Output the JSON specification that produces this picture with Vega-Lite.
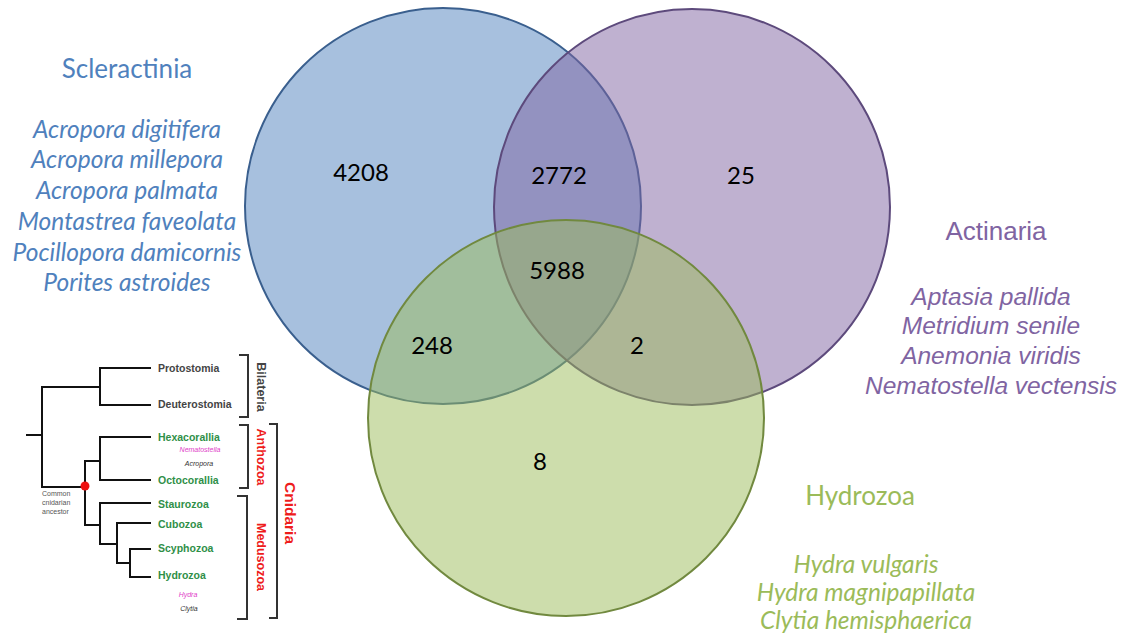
{
  "$schema": "https://vega.github.io/schema/vega-lite/v6.json",
  "width": 1128,
  "height": 640,
  "padding": 0,
  "autosize": {"type": "fit", "contains": "padding"},
  "background": "white",
  "config": {"view": {"stroke": null}},
  "datasets": {
    "circles": [
      {"set": "Scleractinia", "x": 443, "y": 206},
      {"set": "Actinaria", "x": 692, "y": 207},
      {"set": "Hydrozoa", "x": 566, "y": 418}
    ],
    "counts": [
      {"x": 361, "y": 174, "n": "4208"},
      {"x": 559, "y": 177, "n": "2772"},
      {"x": 741, "y": 177, "n": "25"},
      {"x": 557, "y": 272, "n": "5988"},
      {"x": 432, "y": 347, "n": "248"},
      {"x": 637, "y": 347, "n": "2"},
      {"x": 540, "y": 463, "n": "8"}
    ],
    "titles": [
      {"set": "Scleractinia", "x": 127, "y": 70, "t": "Scleractinia"},
      {"set": "Actinaria", "x": 996, "y": 232, "t": "Actinaria"},
      {"set": "Hydrozoa", "x": 860, "y": 497, "t": "Hydrozoa"}
    ],
    "species": [
      {"set": "Scleractinia", "x": 127, "y": 131, "t": "Acropora digitifera"},
      {"set": "Scleractinia", "x": 127, "y": 161, "t": "Acropora millepora"},
      {"set": "Scleractinia", "x": 127, "y": 192, "t": "Acropora palmata"},
      {"set": "Scleractinia", "x": 127, "y": 223, "t": "Montastrea faveolata"},
      {"set": "Scleractinia", "x": 127, "y": 254, "t": "Pocillopora damicornis"},
      {"set": "Scleractinia", "x": 127, "y": 284, "t": "Porites astroides"},
      {"set": "Actinaria", "x": 991, "y": 298, "t": "Aptasia pallida"},
      {"set": "Actinaria", "x": 991, "y": 327, "t": "Metridium senile"},
      {"set": "Actinaria", "x": 991, "y": 357, "t": "Anemonia viridis"},
      {"set": "Actinaria", "x": 991, "y": 387, "t": "Nematostella vectensis"},
      {"set": "Hydrozoa", "x": 866, "y": 566, "t": "Hydra vulgaris"},
      {"set": "Hydrozoa", "x": 866, "y": 594, "t": "Hydra magnipapillata"},
      {"set": "Hydrozoa", "x": 866, "y": 622, "t": "Clytia hemisphaerica"}
    ],
    "tree": [
      {"x": 27, "y": 435, "x2": 42, "y2": 435},
      {"x": 42, "y": 387, "x2": 42, "y2": 487},
      {"x": 42, "y": 387, "x2": 100, "y2": 387},
      {"x": 100, "y": 368, "x2": 100, "y2": 405},
      {"x": 100, "y": 368, "x2": 150, "y2": 368},
      {"x": 100, "y": 405, "x2": 150, "y2": 405},
      {"x": 42, "y": 487, "x2": 85, "y2": 487},
      {"x": 85, "y": 461, "x2": 85, "y2": 525},
      {"x": 85, "y": 461, "x2": 100, "y2": 461},
      {"x": 100, "y": 437, "x2": 100, "y2": 480},
      {"x": 100, "y": 437, "x2": 150, "y2": 437},
      {"x": 100, "y": 480, "x2": 150, "y2": 480},
      {"x": 85, "y": 525, "x2": 100, "y2": 525},
      {"x": 100, "y": 503, "x2": 100, "y2": 544},
      {"x": 100, "y": 503, "x2": 150, "y2": 503},
      {"x": 100, "y": 544, "x2": 117, "y2": 544},
      {"x": 117, "y": 523, "x2": 117, "y2": 563},
      {"x": 117, "y": 523, "x2": 150, "y2": 523},
      {"x": 117, "y": 563, "x2": 130, "y2": 563},
      {"x": 130, "y": 549, "x2": 130, "y2": 577},
      {"x": 130, "y": 549, "x2": 150, "y2": 549},
      {"x": 130, "y": 577, "x2": 150, "y2": 577}
    ],
    "brackets": [
      {"x": 248, "y": 355, "x2": 248, "y2": 417},
      {"x": 240, "y": 355, "x2": 248, "y2": 355},
      {"x": 240, "y": 417, "x2": 248, "y2": 417},
      {"x": 248, "y": 425, "x2": 248, "y2": 488},
      {"x": 240, "y": 425, "x2": 248, "y2": 425},
      {"x": 240, "y": 488, "x2": 248, "y2": 488},
      {"x": 247, "y": 496, "x2": 247, "y2": 619},
      {"x": 238, "y": 496, "x2": 247, "y2": 496},
      {"x": 238, "y": 619, "x2": 247, "y2": 619},
      {"x": 277, "y": 424, "x2": 277, "y2": 618},
      {"x": 270, "y": 424, "x2": 277, "y2": 424},
      {"x": 270, "y": 618, "x2": 277, "y2": 618}
    ],
    "leaves": [
      {"kind": "bil", "x": 158, "y": 369, "t": "Protostomia"},
      {"kind": "bil", "x": 158, "y": 405, "t": "Deuterostomia"},
      {"kind": "cni", "x": 158, "y": 438, "t": "Hexacorallia"},
      {"kind": "cni", "x": 158, "y": 481, "t": "Octocorallia"},
      {"kind": "cni", "x": 158, "y": 505, "t": "Staurozoa"},
      {"kind": "cni", "x": 158, "y": 525, "t": "Cubozoa"},
      {"kind": "cni", "x": 158, "y": 549, "t": "Scyphozoa"},
      {"kind": "cni", "x": 158, "y": 576, "t": "Hydrozoa"}
    ],
    "genera": [
      {"kind": "mag", "x": 200, "y": 450, "t": "Nematostella"},
      {"kind": "blk", "x": 199, "y": 464, "t": "Acropora"},
      {"kind": "mag", "x": 188, "y": 595, "t": "Hydra"},
      {"kind": "blk", "x": 189, "y": 609, "t": "Clytia"}
    ],
    "ancestor": [
      {"x": 42, "y": 494, "t": "Common"},
      {"x": 42, "y": 503, "t": "cnidarian"},
      {"x": 42, "y": 512, "t": "ancestor"}
    ],
    "groups": [
      {"kind": "bil", "x": 261, "y": 387, "t": "Bilateria"},
      {"kind": "red", "x": 261, "y": 457, "t": "Anthozoa"},
      {"kind": "red", "x": 261, "y": 557, "t": "Medusozoa"}
    ],
    "big": [
      {"x": 290, "y": 513, "t": "Cnidaria"}
    ],
    "node": [
      {"x": 85, "y": 486}
    ]
  },
  "encoding": {
    "x": {"field": "x", "type": "quantitative", "scale": {"domain": [0, 1128], "nice": false, "zero": false}, "axis": null},
    "y": {"field": "y", "type": "quantitative", "scale": {"domain": [0, 640], "nice": false, "zero": false, "reverse": true}, "axis": null}
  },
  "layer": [
    {
      "data": {"name": "circles"},
      "mark": {"type": "point", "shape": "circle", "filled": true, "size": 156816, "fillOpacity": 0.5, "strokeOpacity": 1, "strokeWidth": 2},
      "encoding": {
        "fill": {"field": "set", "type": "nominal", "scale": {"domain": ["Scleractinia", "Actinaria", "Hydrozoa"], "range": ["#4f81bd", "#8064a2", "#9bbb59"]}, "legend": null},
        "stroke": {"field": "set", "type": "nominal", "scale": {"domain": ["Scleractinia", "Actinaria", "Hydrozoa"], "range": ["#3a5f8e", "#5d4a7c", "#71893f"]}, "legend": null}
      }
    },
    {
      "data": {"name": "counts"},
      "mark": {"type": "text", "font": "Lato", "fontSize": 24, "color": "#000000", "align": "center", "baseline": "middle"},
      "encoding": {"text": {"field": "n"}}
    },
    {
      "data": {"name": "titles"},
      "transform": [{"filter": "datum.set != 'Actinaria'"}],
      "mark": {"type": "text", "font": "Lato", "fontSize": 26, "align": "center", "baseline": "middle"},
      "encoding": {
        "text": {"field": "t"},
        "color": {"field": "set", "type": "nominal", "scale": {"domain": ["Scleractinia", "Actinaria", "Hydrozoa", "bil", "cni", "mag", "blk", "red"], "range": ["#4f81bd", "#8064a2", "#9bbb59", "#444444", "#2f8f48", "#e040c8", "#333333", "#ee1c1c"]}, "legend": null}
      }
    },
    {
      "data": {"name": "titles"},
      "transform": [{"filter": "datum.set == 'Actinaria'"}],
      "mark": {"type": "text", "font": "Liberation Sans", "fontSize": 26, "align": "center", "baseline": "middle"},
      "encoding": {
        "text": {"field": "t"},
        "color": {"field": "set", "type": "nominal", "scale": {"domain": ["Scleractinia", "Actinaria", "Hydrozoa", "bil", "cni", "mag", "blk", "red"], "range": ["#4f81bd", "#8064a2", "#9bbb59", "#444444", "#2f8f48", "#e040c8", "#333333", "#ee1c1c"]}, "legend": null}
      }
    },
    {
      "data": {"name": "species"},
      "transform": [{"filter": "datum.set != 'Actinaria'"}],
      "mark": {"type": "text", "font": "Lato", "fontSize": 24.5, "fontStyle": "italic", "align": "center", "baseline": "middle"},
      "encoding": {
        "text": {"field": "t"},
        "color": {"field": "set", "type": "nominal", "scale": {"domain": ["Scleractinia", "Actinaria", "Hydrozoa", "bil", "cni", "mag", "blk", "red"], "range": ["#4f81bd", "#8064a2", "#9bbb59", "#444444", "#2f8f48", "#e040c8", "#333333", "#ee1c1c"]}, "legend": null}
      }
    },
    {
      "data": {"name": "species"},
      "transform": [{"filter": "datum.set == 'Actinaria'"}],
      "mark": {"type": "text", "font": "Liberation Sans", "fontSize": 24.5, "fontStyle": "italic", "align": "center", "baseline": "middle"},
      "encoding": {
        "text": {"field": "t"},
        "color": {"field": "set", "type": "nominal", "scale": {"domain": ["Scleractinia", "Actinaria", "Hydrozoa", "bil", "cni", "mag", "blk", "red"], "range": ["#4f81bd", "#8064a2", "#9bbb59", "#444444", "#2f8f48", "#e040c8", "#333333", "#ee1c1c"]}, "legend": null}
      }
    },
    {
      "data": {"name": "tree"},
      "mark": {"type": "rule", "color": "#111111", "strokeWidth": 2, "strokeCap": "square"},
      "encoding": {"x2": {"field": "x2"}, "y2": {"field": "y2"}}
    },
    {
      "data": {"name": "brackets"},
      "mark": {"type": "rule", "color": "#333333", "strokeWidth": 2, "strokeCap": "square"},
      "encoding": {"x2": {"field": "x2"}, "y2": {"field": "y2"}}
    },
    {
      "data": {"name": "leaves"},
      "mark": {"type": "text", "font": "Liberation Sans", "fontSize": 10.5, "fontWeight": "bold", "align": "left", "baseline": "middle"},
      "encoding": {
        "text": {"field": "t"},
        "color": {"field": "kind", "type": "nominal", "scale": {"domain": ["Scleractinia", "Actinaria", "Hydrozoa", "bil", "cni", "mag", "blk", "red"], "range": ["#4f81bd", "#8064a2", "#9bbb59", "#444444", "#2f8f48", "#e040c8", "#333333", "#ee1c1c"]}, "legend": null}
      }
    },
    {
      "data": {"name": "genera"},
      "mark": {"type": "text", "font": "Liberation Sans", "fontSize": 7, "fontStyle": "italic", "align": "center", "baseline": "middle"},
      "encoding": {
        "text": {"field": "t"},
        "color": {"field": "kind", "type": "nominal", "scale": {"domain": ["Scleractinia", "Actinaria", "Hydrozoa", "bil", "cni", "mag", "blk", "red"], "range": ["#4f81bd", "#8064a2", "#9bbb59", "#444444", "#2f8f48", "#e040c8", "#333333", "#ee1c1c"]}, "legend": null}
      }
    },
    {
      "data": {"name": "ancestor"},
      "mark": {"type": "text", "font": "Liberation Sans", "fontSize": 7, "color": "#555555", "align": "left", "baseline": "middle"},
      "encoding": {"text": {"field": "t"}}
    },
    {
      "data": {"name": "groups"},
      "mark": {"type": "text", "font": "Liberation Sans", "fontSize": 12.5, "fontWeight": "bold", "angle": 90, "align": "center", "baseline": "middle"},
      "encoding": {
        "text": {"field": "t"},
        "color": {"field": "kind", "type": "nominal", "scale": {"domain": ["Scleractinia", "Actinaria", "Hydrozoa", "bil", "cni", "mag", "blk", "red"], "range": ["#4f81bd", "#8064a2", "#9bbb59", "#444444", "#2f8f48", "#e040c8", "#333333", "#ee1c1c"]}, "legend": null}
      }
    },
    {
      "data": {"name": "big"},
      "mark": {"type": "text", "font": "Liberation Sans", "fontSize": 15.5, "fontWeight": "bold", "angle": 90, "color": "#ee1c1c", "align": "center", "baseline": "middle"},
      "encoding": {"text": {"field": "t"}}
    },
    {
      "data": {"name": "node"},
      "mark": {"type": "point", "shape": "circle", "filled": true, "size": 80, "color": "#ee1111", "opacity": 1},
      "encoding": {}
    }
  ]
}
